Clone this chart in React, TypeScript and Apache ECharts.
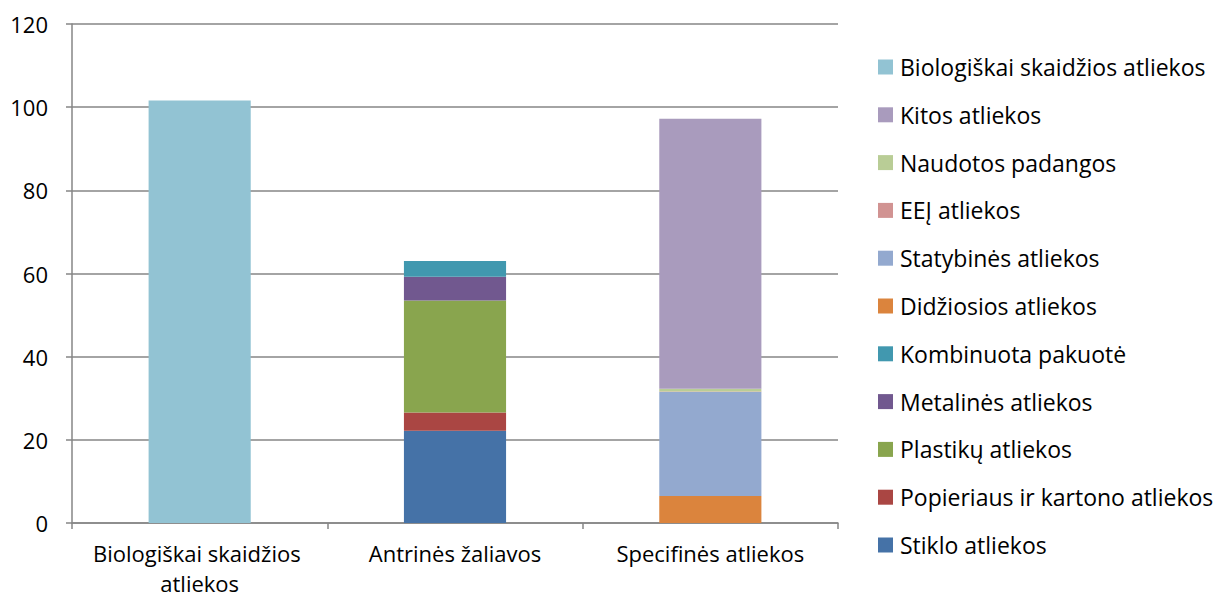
import React, { useEffect, useRef } from "react";
import * as echarts from "echarts";

const categories = ["Biologiškai skaidžios atliekos", "Antrinės žaliavos", "Specifinės atliekos"];
const yTicks = { min: 0, max: 120, interval: 20 };

const seriesNames = [
  "Stiklo atliekos",
  "Popieriaus ir kartono atliekos",
  "Plastikų atliekos",
  "Metalinės atliekos",
  "Kombinuota pakuotė",
  "Didžiosios atliekos",
  "Statybinės atliekos",
  "EEĮ atliekos",
  "Naudotos padangos",
  "Kitos atliekos",
  "Biologiškai skaidžios atliekos",
];
const seriesColors = [
  "#4572A7", "#AA4643", "#89A54E", "#71588F", "#4198AF",
  "#DB843D", "#93A9CF", "#D19392", "#B9CD96", "#A99BBD", "#92C3D3",
];
const stiklo = [0, 22.2, 0];
const popieriaus = [0, 4.4, 0];
const plastiku = [0, 26.9, 0];
const metalines = [0, 5.7, 0];
const kombinuota = [0, 3.8, 0];
const didziosios = [0, 0, 6.5];
const statybines = [0, 0, 25.0];
const eej = [0, 0, 0.1];
const padangos = [0, 0, 0.7];
const kitos = [0, 0, 64.9];
const biologiskai = [101.6, 0, 0];
const seriesValues = [stiklo, popieriaus, plastiku, metalines, kombinuota, didziosios, statybines, eej, padangos, kitos, biologiskai];

const FONT = "Open Sans";

export default function App() {
  const ref = useRef<HTMLDivElement>(null);
  useEffect(() => {
    const chart = echarts.init(ref.current!, null, { renderer: "svg" });
    chart.setOption({
      animation: false,
      textStyle: { fontFamily: FONT, color: "#000" },
      grid: { left: 72, right: 382, top: 24, bottom: 76, containLabel: false, outerBoundsMode: "none" },
      legend: {
        orient: "vertical",
        left: 873,
        top: 49,
        itemWidth: 15,
        itemHeight: 15,
        itemGap: 21.8,
        icon: "rect",
        data: [...seriesNames].reverse(),
        textStyle: { fontFamily: FONT, fontSize: 23, color: "#000", lineHeight: 26, padding: [0, 0, 0, 2] },
      },
      xAxis: {
        type: "category",
        data: categories,
        axisLine: { lineStyle: { color: "#868686", width: 1.5 } },
        axisTick: { show: true, length: 6, lineStyle: { color: "#868686", width: 1.5 } },
        axisLabel: {
          fontFamily: FONT,
          fontSize: 22,
          color: "#000",
          margin: 15,
          lineHeight: 30,
          width: 250,
          overflow: "break",
          interval: 0,
        },
      },
      yAxis: {
        type: "value",
        min: yTicks.min,
        max: yTicks.max,
        interval: yTicks.interval,
        axisLine: { show: true, lineStyle: { color: "#868686", width: 1.5 } },
        axisTick: { show: true, length: 6, lineStyle: { color: "#868686", width: 1.5 } },
        splitLine: { lineStyle: { color: "#868686", width: 1.5 } },
        axisLabel: { fontFamily: FONT, fontSize: 22, color: "#000", margin: 24 },
      },
      series: seriesNames.map((name, i) => ({
        name,
        type: "bar",
        stack: "total",
        barWidth: "40%",
        data: seriesValues[i],
        itemStyle: { color: seriesColors[i] },
      })),
    });
    return () => chart.dispose();
  }, []);
  return (
    <div
      ref={ref}
      style={{ position: "absolute", left: 0, top: 0, width: 1220, height: 599 }}
    />
  );
}
